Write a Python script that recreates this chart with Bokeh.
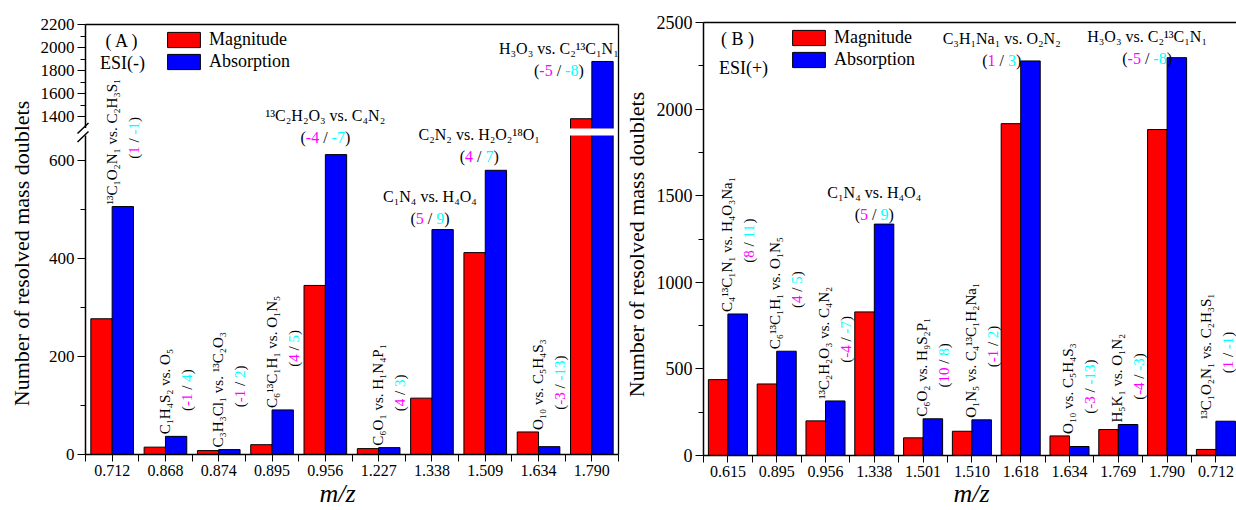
import math
from bokeh.plotting import figure
from bokeh.layouts import row
from bokeh.models import (FixedTicker, CustomJSTickFormatter, Label, Legend, LegendItem,
                          Range1d, ColumnDataSource)
from bokeh.embed import file_html
from bokeh.resources import INLINE
from bokeh.core.properties import value

# ---------------- data: panel A, ESI(-) ----------------
a_mz = ["0.712", "0.868", "0.874", "0.895", "0.956", "1.227", "1.338", "1.509", "1.634", "1.790"]
a_magnitude = [277, 15, 8, 20, 345, 12, 115, 412, 46, 1384]
a_absorption = [506, 37, 10, 91, 612, 14, 459, 580, 16, 1880]
a_pairs = ["¹³C₁O₂N₁ vs. C₂H₃S₁", "C₁H₄S₂ vs. O₅", "C₃H₃Cl₁ vs. ¹³C₂O₃", "C₆¹³C₁H₁ vs. O₁N₅",
           "¹³C₂H₂O₃ vs. C₄N₂", "C₆O₁ vs. H₁N₄P₁", "C₁N₄ vs. H₄O₄", "C₂N₂ vs. H₂O₂¹⁸O₁",
           "O₁₀ vs. C₅H₄S₃", "H₃O₃ vs. C₂¹³C₁N₁"]
a_err_mag = ["1", "-1", "-1", "4", "-4", "4", "5", "4", "-3", "-5"]
a_err_abs = ["-1", "4", "2", "5", "-7", "3", "9", "7", "-13", "-8"]

# ---------------- data: panel B, ESI(+) ----------------
b_mz = ["0.615", "0.895", "0.956", "1.338", "1.501", "1.510", "1.618", "1.634", "1.769", "1.790", "0.712"]
b_magnitude = [438, 413, 200, 829, 102, 140, 1916, 113, 150, 1882, 35]
b_absorption = [817, 602, 315, 1336, 212, 206, 2278, 52, 179, 2297, 198]
b_pairs = ["C₄¹³C₁N₁ vs. H₄O₃Na₁", "C₆¹³C₁H₁ vs. O₁N₅", "¹³C₂H₂O₃ vs. C₄N₂", "C₁N₄ vs. H₄O₄",
           "C₆O₂ vs. H₉S₂P₁", "O₁N₅ vs. C₄¹³C₁H₂Na₁", "C₃H₁Na₁ vs. O₂N₂", "O₁₀ vs. C₅H₄S₃",
           "H₅K₁ vs. O₁N₂", "H₃O₃ vs. C₂¹³C₁N₁", "¹³C₁O₂N₁ vs. C₂H₃S₁"]
b_err_mag = ["8", "4", "-4", "5", "10", "-1", "1", "-3", "-4", "-5", "1"]
b_err_abs = ["11", "5", "-7", "9", "8", "2", "3", "-13", "-3", "-8", "-1"]

# ---------------- layout / style (not data) ----------------
a_orient = ["v", "v", "v", "v", "h", "v", "h", "h", "v", "h"]
a_hshift = [0, 0, 0, 0, 0, 0, -2, -6, 0, -33]
a_voff = [0, 0, 0, 0, -17, 0, -11, -14, 0, 9]
b_orient = ["v", "v", "v", "h", "v", "v", "h", "v", "v", "h", "v"]
b_hshift = [0, 0, 0, 0, 0, 0, -19, 0, 0, -20, -9]
b_voff = [0, 0, 0, -10, 0, 0, 0, 0, 0, 1, 0]

SERIF = "Liberation Serif"
RED, BLUE, MAGENTA, CYAN = "#FF0000", "#0000FF", "#FF00FF", "#00FFFF"
FS_H = 16      # horizontal annotation size
FS_V = 15      # rotated annotation size
H = 510

EM = {'(': 0.333, ')': 0.333, ' ': 0.25, '/': 0.278, '-': 0.333, 'C': 0.667, 'H': 0.722,
      'O': 0.722, 'N': 0.722, 'S': 0.556, 'P': 0.556, 'K': 0.722, 'l': 0.278, 'a': 0.444,
      'v': 0.5, 's': 0.389, '.': 0.25}
SMALL = set("₀₁₂₃₄₅₆₇₈₉⁰¹²³⁴⁵⁶⁷⁸⁹")


def text_w(s, fs):
    return fs * sum(0.4 if ch in SMALL else EM.get(ch, 0.5) for ch in s)


# left panel broken axis: display units are pixels of the plotting area
LK, UK = 0.49, 0.1155          # px per count, lower / upper segment
BREAK_LO, BREAK_HI = 651, 1300
A_TOP = 430.0
U0 = A_TOP - (2200 - BREAK_HI) * UK


def ty_a(v):
    return v * LK if v <= BREAK_LO else U0 + (v - BREAK_HI) * UK


def ty_b(v):
    return v


class Geo:
    """Plot area inside a figure whose frame spans the whole canvas."""
    def __init__(self, fig_w, lb, rb, tb, bb, x_end, y_end, ty):
        self.fig_w, self.lb, self.rb, self.tb, self.bb = fig_w, lb, rb, tb, bb
        self.fw = fig_w - lb - rb
        self.fh = H - tb - bb
        self.x_end, self.y_end, self.ty = x_end, y_end, ty
        self.sx = self.fw / x_end
        self.ky = self.fh / y_end

    def px(self, xd):
        return self.lb + xd * self.sx

    def xd(self, px):
        return (px - self.lb) / self.sx

    def py(self, yd):
        return self.tb + self.fh - yd * self.ky

    def yd(self, py):
        return (self.tb + self.fh - py) / self.ky


def build(G, mz, mag, ab, pairs, emag, eabs, orient, hshift, voff, yticker, yformatter,
          legend_px, corner_texts, ylabel_px, mz_px, ytick_fs, full_frame):
    n = len(mz)
    p = figure(width=G.fig_w, height=H,
               x_range=Range1d(G.xd(0), G.xd(G.fig_w)), y_range=Range1d(G.yd(H), G.yd(0)),
               output_backend="svg", toolbar_location=None,
               min_border_left=0, min_border_right=0, min_border_top=0, min_border_bottom=0)
    p.grid.visible = False
    p.outline_line_color = None
    p.background_fill_color = "white"
    p.border_fill_color = "white"

    src_r = ColumnDataSource(dict(x=[i + 0.3 for i in range(n)], top=[G.ty(v) for v in mag]))
    src_b = ColumnDataSource(dict(x=[i + 0.7 for i in range(n)], top=[G.ty(v) for v in ab]))
    r_red = p.vbar(x="x", top="top", bottom=0, width=0.4, source=src_r, fill_color=RED,
                   line_color="black", line_width=1)
    r_blue = p.vbar(x="x", top="top", bottom=0, width=0.4, source=src_b, fill_color=BLUE,
                    line_color="black", line_width=1)

    # frame lines (top, and right when visible)
    fx0 = [0]
    fy0 = [G.y_end]
    fx1 = [G.x_end]
    fy1 = [G.y_end]
    if full_frame:
        fx0.append(G.x_end); fy0.append(0); fx1.append(G.x_end); fy1.append(G.y_end)
    p.segment(x0=fx0, y0=fy0, x1=fx1, y1=fy1, line_color="black", line_width=1.3)

    # axes placed at the plot-area edges
    xa = p.below[0]
    ya = p.left[0]
    xa.fixed_location = 0
    ya.fixed_location = 0
    xa.bounds = (0, G.x_end)
    ya.bounds = (0, G.y_end)
    xa.ticker = FixedTicker(ticks=[i + 0.5 for i in range(n)], minor_ticks=list(range(n + 1)))
    xa.formatter = CustomJSTickFormatter(args=dict(labels=mz), code="return labels[Math.floor(tick)];")
    ya.ticker = yticker
    ya.formatter = yformatter
    for ax in (xa, ya):
        ax.axis_line_width = 1.5
        ax.axis_line_color = "black"
        ax.major_tick_line_color = "black"
        ax.minor_tick_line_color = "black"
        ax.major_tick_in = 0
        ax.minor_tick_in = 0
        ax.major_label_text_font = SERIF
        ax.major_label_text_color = "black"
    xa.major_tick_out = 7
    xa.minor_tick_out = 7
    xa.major_label_standoff = 3
    xa.major_label_text_font_size = "16px"
    ya.major_tick_out = 8
    ya.minor_tick_out = 5
    ya.major_label_standoff = 3
    ya.major_label_text_font_size = ytick_fs

    # annotations above bars
    rot = dict(x=[], y=[], text=[], color=[])
    hc = dict(x=[], y=[], text=[])
    hl = dict(x=[], y=[], text=[], color=[])
    for i in range(n):
        pieces = [("(", "black"), (emag[i], MAGENTA), (" ", None), ("/", "black"), (" ", None),
                  (eabs[i], CYAN), (")", "black")]
        top_px = min(G.py(G.ty(mag[i])), G.py(G.ty(ab[i])))
        blue_top = G.py(G.ty(ab[i]))
        if orient[i] == "v":
            fs = FS_V
            lp = sum(text_w(t, fs) for t, _ in pieces)
            xb = G.px(i + 0.7) + hshift[i]
            bottom = top_px - 2
            lm = text_w(pairs[i], fs)
            rot["x"].append(G.xd(xb - 11)); rot["y"].append(G.yd(bottom))
            rot["text"].append(pairs[i]); rot["color"].append("black")
            start = bottom - (lm - lp) / 2
            cum = 0
            for t, c in pieces:
                if c is not None:
                    rot["x"].append(G.xd(xb + 11)); rot["y"].append(G.yd(start - cum))
                    rot["text"].append(t); rot["color"].append(c)
                cum += text_w(t, fs)
        else:
            fs = FS_H
            lp = sum(text_w(t, fs) for t, _ in pieces)
            cx = G.px(i + 0.5) + hshift[i]
            ypar = blue_top + voff[i]
            hc["x"].append(G.xd(cx)); hc["y"].append(G.yd(ypar - 22)); hc["text"].append(pairs[i])
            start = cx - lp / 2
            cum = 0
            for t, c in pieces:
                if c is not None:
                    hl["x"].append(G.xd(start + cum)); hl["y"].append(G.yd(ypar))
                    hl["text"].append(t); hl["color"].append(c)
                cum += text_w(t, fs)
    p.text(x="x", y="y", text="text", text_color="color", angle=math.pi / 2, text_align="left",
           text_baseline="middle", text_font=value(SERIF), text_font_size=value(f"{FS_V}px"),
           source=ColumnDataSource(rot))
    p.text(x="x", y="y", text="text", text_color="black", text_align="center",
           text_baseline="middle", text_font=value(SERIF), text_font_size=value(f"{FS_H}px"),
           source=ColumnDataSource(hc))
    p.text(x="x", y="y", text="text", text_color="color", text_align="left",
           text_baseline="middle", text_font=value(SERIF), text_font_size=value(f"{FS_H}px"),
           source=ColumnDataSource(hl))

    # legend (location in pixels from the bottom-left of the canvas-wide frame)
    lx, ly = legend_px
    leg = Legend(items=[LegendItem(label="Magnitude", renderers=[r_red]),
                        LegendItem(label="Absorption", renderers=[r_blue])],
                 location=(lx, H - (ly - 1) - 43),
                 glyph_width=41, glyph_height=19, label_height=19, label_standoff=5, spacing=1,
                 padding=0, margin=0, border_line_color=None, background_fill_alpha=0,
                 label_text_font=SERIF, label_text_font_size="18px", label_text_color="black")
    p.add_layout(leg)

    def lab(px_, py_, text, **kw):
        p.add_layout(Label(x=G.xd(px_), y=G.yd(py_), text=text, text_font=SERIF, text_align="center",
                           text_baseline="middle", text_color="black", **kw))

    for (tx, px_, py_) in corner_texts:
        lab(px_, py_, tx, text_font_size="18px")
    lab(ylabel_px[0], ylabel_px[1], "Number of resolved mass doublets", angle=math.pi / 2,
        text_font_size="22px")
    lab(mz_px[0], mz_px[1], "m/z", text_font_style="italic", text_font_size="26px")
    return p


# ---------- panel A ----------
GA = Geo(622, 85, 4, 24, 56, len(a_mz), A_TOP, ty_a)
a_major = [0, 200, 400, 600, 1400, 1600, 1800, 2000, 2200]
a_minor = [100, 300, 500, 1500, 1700, 1900, 2100]
a_ticker = FixedTicker(ticks=[ty_a(v) for v in a_major], minor_ticks=[ty_a(v) for v in a_minor])
a_fmt = CustomJSTickFormatter(args=dict(LK=LK, UK=UK, U0=U0, BH=BREAK_HI, GL=BREAK_LO * LK),
                              code="const v = tick <= GL + 0.5 ? tick / LK : BH + (tick - U0) / UK;"
                                   " return Math.round(v).toString();")
pa = build(GA, a_mz, a_magnitude, a_absorption, a_pairs, a_err_mag, a_err_abs, a_orient, a_hshift, a_voff,
           a_ticker, a_fmt, (163, 30), [("( A )", 122, 40), ("ESI(-)", 122, 62)], (21, 253), (337, 493),
           "17px", True)
# white gap across bars that pass the axis break
gap_idx = [i for i in range(len(a_mz)) if max(a_magnitude[i], a_absorption[i]) > BREAK_HI]
pa.quad(left=[i + 0.06 for i in gap_idx], right=[i + 0.94 for i in gap_idx],
        bottom=[ty_a(BREAK_LO)] * len(gap_idx), top=[U0] * len(gap_idx),
        fill_color="white", line_color=None)
# break in the y axis line and the two slash marks
pa.quad(left=[GA.xd(83)], right=[GA.xd(87.5)], bottom=[GA.yd(135)], top=[GA.yd(127.5)],
        fill_color="white", line_color=None, level="overlay")
pa.segment(x0=[GA.xd(77), GA.xd(77)], y0=[GA.yd(133), GA.yd(141.5)],
           x1=[GA.xd(88), GA.xd(88)], y1=[GA.yd(122.5), GA.yd(131)],
           line_color="black", line_width=1.5, level="overlay")

# ---------- panel B ----------
GB = Geo(614, 81, 0, 22, 55, 533 / 48.8, 2500, ty_b)
b_ticker = FixedTicker(ticks=[0, 500, 1000, 1500, 2000, 2500], minor_ticks=[250, 750, 1250, 1750, 2250])
b_fmt = CustomJSTickFormatter(code="return Math.round(tick).toString();")
pb = build(GB, b_mz, b_magnitude, b_absorption, b_pairs, b_err_mag, b_err_abs, b_orient, b_hshift, b_voff,
           b_ticker, b_fmt, (788 - 622, 28), [("( B )", 737 - 622, 38), ("ESI(+)", 743 - 622, 67)],
           (636 - 622, 244), (971 - 622, 493), "18px", False)

layout = row(pa, pb, spacing=0)
open("out.html", "w").write(file_html(layout, INLINE))
